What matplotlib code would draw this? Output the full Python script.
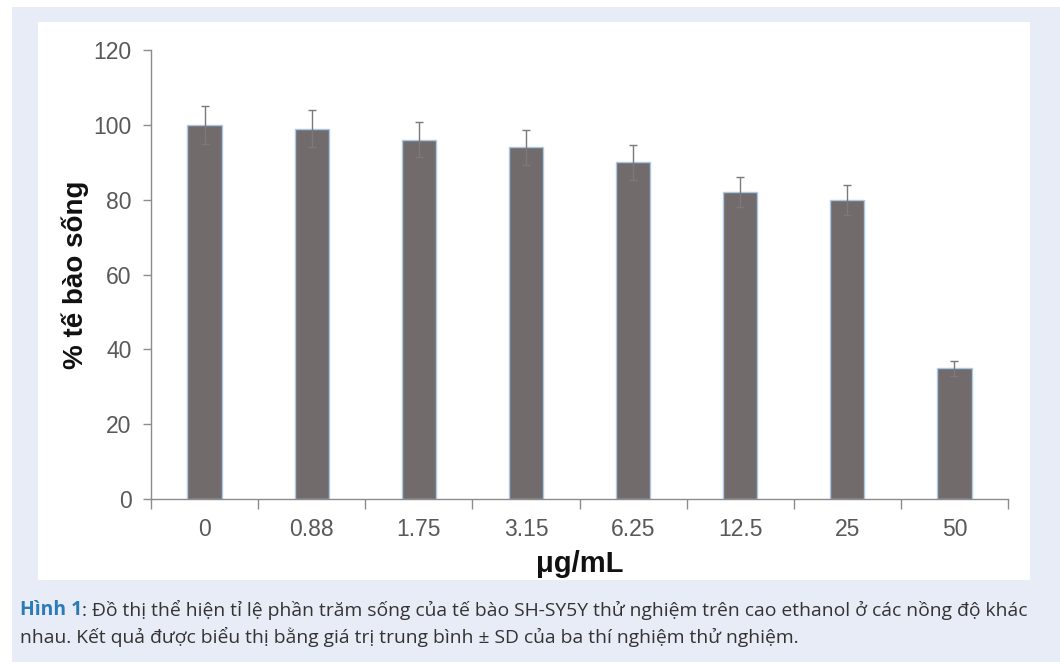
import matplotlib
matplotlib.use("Agg")
import matplotlib.pyplot as plt
from matplotlib.patches import Rectangle

categories = ["0", "0.88", "1.75", "3.15", "6.25", "12.5", "25", "50"]
values = [100, 99, 96, 94, 90, 82, 80, 35]
errors = [5, 5, 4.7, 4.7, 4.7, 4, 4, 2]
y_ticks = [0, 20, 40, 60, 80, 100, 120]

W, H = 1060, 666
fig = plt.figure(figsize=(W / 100, H / 100), dpi=100)
fig.patch.set_facecolor("white")

def px_rect(x0, y0, x1, y1, color):
    fig.patches.append(Rectangle((x0 / W, 1 - y1 / H), (x1 - x0) / W, (y1 - y0) / H,
                                 transform=fig.transFigure, facecolor=color,
                                 edgecolor="none", zorder=-10))

px_rect(12, 7, 1060, 662, "#E8ECF6")
px_rect(38, 22, 1030, 580, "white")

ax = fig.add_axes([151 / W, 1 - 499 / H, (1008 - 151) / W, (499 - 50) / H])
ax.set_facecolor("none")
x = list(range(len(categories)))
ax.bar(x, values, width=0.32, color="#726B6B", edgecolor="#A9C8E8", linewidth=1.0, zorder=2)
ax.errorbar(x, values, yerr=errors, fmt="none", ecolor="#7A7A7A", elinewidth=1.0,
            capsize=3.2, capthick=1.0, zorder=3)

ax.set_xlim(-0.5, len(categories) - 0.5)
ax.set_ylim(0, 120)
ax.set_yticks(y_ticks)
ax.set_xticks(x)
ax.set_xticklabels(categories)
ax.set_xticks([i - 0.5 for i in range(len(categories) + 1)], minor=True)

tick_font = "Liberation Sans"
for lab in ax.get_xticklabels() + ax.get_yticklabels():
    lab.set_fontfamily(tick_font)
    lab.set_fontsize(16.5)
    lab.set_color("#595959")

ax.tick_params(axis="x", which="major", length=0, pad=14)
ax.tick_params(axis="x", which="minor", length=7, color="#8C8C8C", width=1)
ax.tick_params(axis="y", length=6, color="#8C8C8C", width=1, pad=8)

for s in ["top", "right"]:
    ax.spines[s].set_visible(False)
for s in ["left", "bottom"]:
    ax.spines[s].set_color("#8C8C8C")
    ax.spines[s].set_linewidth(1)

fig.text(75 / W, 1 - 275 / H, "% tế bào sống", rotation=90, ha="center", va="center",
         fontsize=20, fontweight="bold", family="Liberation Sans", color="#111111")
fig.text(580 / W, 1 - 564 / H, "μg/mL", ha="center", va="center",
         fontsize=21, fontweight="bold", family="Liberation Sans", color="#111111")

cap_font = "Open Sans"
fs = 13.9
line1_a = "Hình 1"
line1_b = ": Đồ thị thể hiện tỉ lệ phần trăm sống của tế bào SH-SY5Y thử nghiệm trên cao ethanol ở các nồng độ khác"
line2 = "nhau. Kết quả được biểu thị bằng giá trị trung bình ± SD của ba thí nghiệm thử nghiệm."

t1 = fig.text(20 / W, 1 - 610 / H, line1_a, ha="left", va="center", fontsize=fs,
              fontweight="bold", family=cap_font, color="#2B7BB9")
fig.canvas.draw()
bb = t1.get_window_extent(renderer=fig.canvas.get_renderer())
fig.text(bb.x1 / W, 1 - 610 / H, line1_b, ha="left", va="center", fontsize=fs,
         family=cap_font, color="#333333")
fig.text(20 / W, 1 - 637 / H, line2, ha="left", va="center", fontsize=fs,
         family=cap_font, color="#333333")

fig.savefig("out.png", dpi=100)
